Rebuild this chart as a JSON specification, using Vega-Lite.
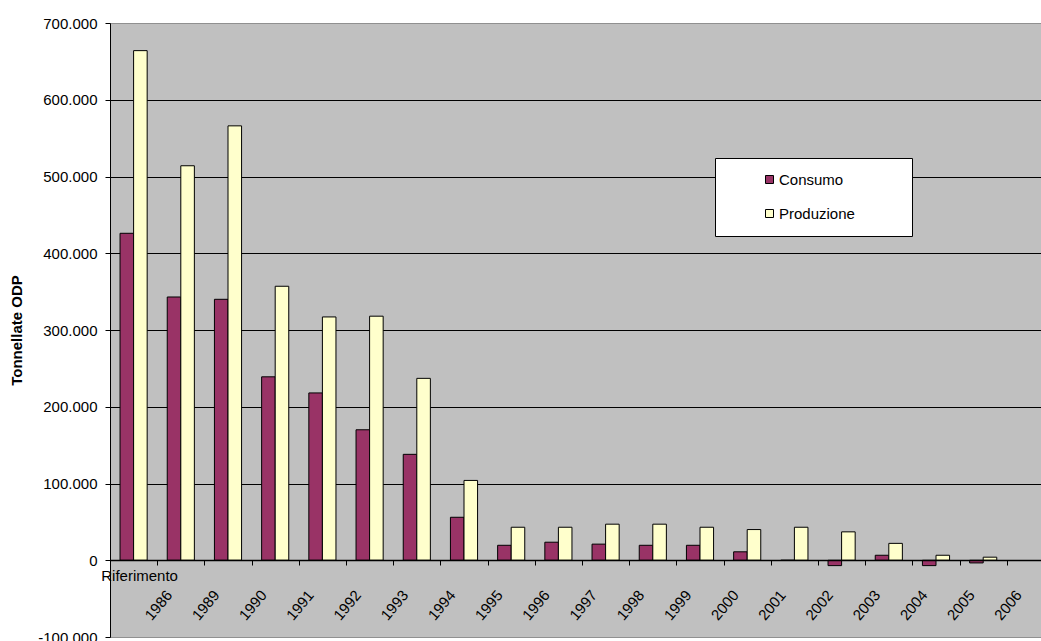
{
  "$schema": "https://vega.github.io/schema/vega-lite/v6.json",
  "width": 931,
  "height": 614,
  "autosize": {"type": "none"},
  "padding": {"left": 110, "top": 23, "right": 0, "bottom": 4},
  "background": "white",
  "config": {
    "font": "Liberation Sans",
    "view": {"fill": "#C0C0C0", "stroke": "#909090", "strokeWidth": 1}
  },
  "data": {
    "values": [
      {"anno": "Riferimento", "serie": "Consumo", "valore": 426000},
      {"anno": "Riferimento", "serie": "Produzione", "valore": 664000},
      {"anno": "1986", "serie": "Consumo", "valore": 343000},
      {"anno": "1986", "serie": "Produzione", "valore": 514000},
      {"anno": "1989", "serie": "Consumo", "valore": 340000},
      {"anno": "1989", "serie": "Produzione", "valore": 566000},
      {"anno": "1990", "serie": "Consumo", "valore": 239000},
      {"anno": "1990", "serie": "Produzione", "valore": 357000},
      {"anno": "1991", "serie": "Consumo", "valore": 218000},
      {"anno": "1991", "serie": "Produzione", "valore": 317000},
      {"anno": "1992", "serie": "Consumo", "valore": 170000},
      {"anno": "1992", "serie": "Produzione", "valore": 318000},
      {"anno": "1993", "serie": "Consumo", "valore": 138000},
      {"anno": "1993", "serie": "Produzione", "valore": 237000},
      {"anno": "1994", "serie": "Consumo", "valore": 56000},
      {"anno": "1994", "serie": "Produzione", "valore": 104000},
      {"anno": "1995", "serie": "Consumo", "valore": 19500},
      {"anno": "1995", "serie": "Produzione", "valore": 43000},
      {"anno": "1996", "serie": "Consumo", "valore": 23500},
      {"anno": "1996", "serie": "Produzione", "valore": 43000},
      {"anno": "1997", "serie": "Consumo", "valore": 21000},
      {"anno": "1997", "serie": "Produzione", "valore": 47000},
      {"anno": "1998", "serie": "Consumo", "valore": 19500},
      {"anno": "1998", "serie": "Produzione", "valore": 47000},
      {"anno": "1999", "serie": "Consumo", "valore": 19500},
      {"anno": "1999", "serie": "Produzione", "valore": 43000},
      {"anno": "2000", "serie": "Consumo", "valore": 11000},
      {"anno": "2000", "serie": "Produzione", "valore": 40000},
      {"anno": "2001", "serie": "Consumo", "valore": 0},
      {"anno": "2001", "serie": "Produzione", "valore": 43000},
      {"anno": "2002", "serie": "Consumo", "valore": -7000},
      {"anno": "2002", "serie": "Produzione", "valore": 37000},
      {"anno": "2003", "serie": "Consumo", "valore": 6500},
      {"anno": "2003", "serie": "Produzione", "valore": 22000},
      {"anno": "2004", "serie": "Consumo", "valore": -7000},
      {"anno": "2004", "serie": "Produzione", "valore": 6500},
      {"anno": "2005", "serie": "Consumo", "valore": -3500},
      {"anno": "2005", "serie": "Produzione", "valore": 4000}
    ]
  },
  "layer": [
    {
      "mark": {"type": "bar", "stroke": "black", "strokeWidth": 1},
      "encoding": {
        "x": {
          "field": "anno",
          "type": "nominal",
          "scale": {
            "domain": ["Riferimento", "1986", "1989", "1990", "1991", "1992", "1993", "1994", "1995", "1996", "1997", "1998", "1999", "2000", "2001", "2002", "2003", "2004", "2005", "2006"],
            "range": [0, 944],
            "paddingInner": 0,
            "paddingOuter": 0
          },
          "axis": {
            "title": null,
            "orient": "bottom",
            "offset": -77,
            "zindex": 1,
            "domainColor": "black",
            "domainWidth": 1.5,
            "tickBand": "extent",
            "tickColor": "black",
            "tickSize": 5,
            "labelExpr": "datum.value === 'Riferimento' ? '' : datum.label",
            "labelAngle": -50,
            "labelAlign": "right",
            "labelBaseline": "middle",
            "labelPadding": 27,
            "labelOffset": -12,
            "labelFontSize": 15,
            "labelColor": "black",
            "labelOverlap": false,
            "labelBound": false,
            "labelFlush": false
          }
        },
        "xOffset": {
          "field": "serie",
          "sort": ["Consumo", "Produzione"],
          "scale": {"paddingInner": 0, "paddingOuter": 0.74}
        },
        "y": {
          "field": "valore",
          "type": "quantitative",
          "scale": {"domain": [-100000, 700000], "nice": false, "zero": false},
          "axis": {
            "title": "Tonnellate ODP",
            "titleFontSize": 15,
            "titleFontWeight": "bold",
            "titleColor": "black",
            "titlePadding": 13,
            "values": [-100000, 0, 100000, 200000, 300000, 400000, 500000, 600000, 700000],
            "labelExpr": "replace(replace(format(datum.value, ','), ',', '.'), '−', '-')",
            "labelFontSize": 15,
            "labelColor": "black",
            "labelPadding": 8,
            "domainColor": "black",
            "tickColor": "black",
            "tickSize": 5,
            "grid": true,
            "gridColor": {
              "condition": {"test": "datum.value <= -100000 || datum.value >= 700000", "value": "#909090"},
              "value": "black"
            },
            "gridOpacity": 1,
            "labelOverlap": false,
            "labelFlush": false
          }
        },
        "color": {
          "field": "serie",
          "type": "nominal",
          "scale": {"domain": ["Consumo", "Produzione"], "range": ["#993366", "#FFFFCC"]},
          "legend": {
            "title": "\u00a0",
            "titleOrient": "right",
            "titlePadding": 43,
            "titleFontSize": 15,
            "orient": "none",
            "legendX": 605,
            "legendY": 135,
            "fillColor": "white",
            "strokeColor": "black",
            "padding": 14,
            "symbolType": "square",
            "symbolSize": 64,
            "symbolStrokeColor": "black",
            "symbolStrokeWidth": 1,
            "symbolOpacity": 1,
            "symbolOffset": 33,
            "labelOffset": 2,
            "labelFontSize": 15,
            "labelColor": "black",
            "rowPadding": 18
          }
        }
      }
    },
    {
      "data": {"values": [{"anno": "Riferimento", "etichetta": "Riferimento"}]},
      "mark": {"type": "text", "align": "center", "baseline": "top", "dx": 6, "dy": 9, "fontSize": 15, "color": "black"},
      "encoding": {
        "x": {"field": "anno", "type": "nominal"},
        "y": {"datum": 0, "type": "quantitative"},
        "text": {"field": "etichetta"}
      }
    }
  ]
}
